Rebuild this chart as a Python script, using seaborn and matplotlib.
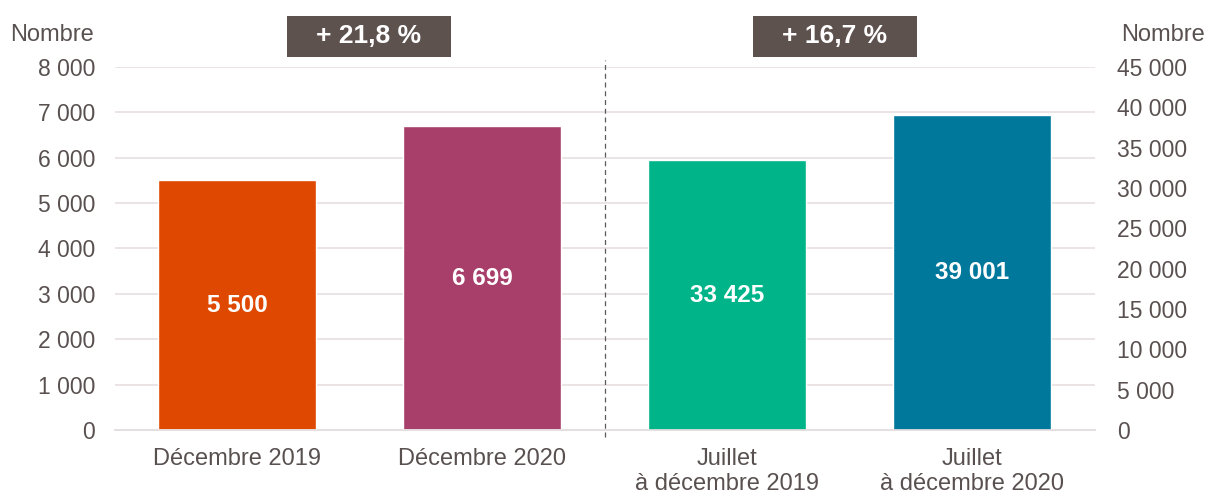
import pandas as pd
import numpy as np
import matplotlib.pyplot as plt
import seaborn as sns
from matplotlib.ticker import FuncFormatter
from matplotlib.patches import Rectangle
from matplotlib.transforms import blended_transform_factory

# données
categories = ["Décembre 2019", "Décembre 2020", "Juillet\nà décembre 2019", "Juillet\nà décembre 2020"]
valeurs = [5500, 6699, 33425, 39001]
etiquettes = ["5 500", "6 699", "33 425", "39 001"]
couleurs = ["#df4800", "#a83e6a", "#00b48a", "#00789c"]
evolutions = ["+ 21,8 %", "+ 16,7 %"]

sns.set_style("white")
plt.rcParams['font.family'] = ['Liberation Sans', 'DejaVu Sans']
gris_txt = "#595150"
gris_grille = "#e6dfdf"

df = pd.DataFrame({'cat': categories, 'val': valeurs})
palette = dict(zip(categories, couleurs))

fig = plt.figure(figsize=(12.07, 4.95), dpi=100)
ax = fig.add_axes([0.095, 0.131, 0.812, 0.734])
ax2 = ax.twinx()

# mois de décembre -> axe de gauche, juillet-décembre -> axe de droite
sns.barplot(data=df.iloc[:2], x='cat', y='val', order=categories, hue='cat',
            palette=palette, width=0.645, ax=ax, legend=False, saturation=1)
sns.barplot(data=df.iloc[2:], x='cat', y='val', order=categories, hue='cat',
            palette=palette, width=0.645, ax=ax2, legend=False, saturation=1)

ax.set_ylim(0, 8000)
ax2.set_ylim(0, 45000)
ax.set_xlim(-0.5, 3.5)
ax.set_yticks(np.arange(0, 8001, 1000))
ax2.set_yticks(np.arange(0, 45001, 5000))
fmt = FuncFormatter(lambda v, p: f"{int(v):,}".replace(",", " "))
ax.yaxis.set_major_formatter(fmt)
ax2.yaxis.set_major_formatter(fmt)

ax.set_axisbelow(True)
ax.yaxis.grid(True, color=gris_grille, linewidth=1.2)
for a in (ax, ax2):
    for s in ['top', 'left', 'right']:
        a.spines[s].set_visible(False)
    a.spines['bottom'].set_color(gris_grille)
    a.spines['bottom'].set_linewidth(1.2)
    a.set_xlabel("")
    a.set_ylabel("")
    a.tick_params(axis='both', length=0, labelsize=16.5, labelcolor=gris_txt)
ax.tick_params(axis='y', pad=14)
ax2.tick_params(axis='y', pad=16)
ax.tick_params(axis='x', pad=13)
ax.set_xticks(range(4))
ax.set_xticklabels(categories, fontsize=17, color=gris_txt, linespacing=1.18)

# étiquettes au milieu des barres
for i in range(4):
    a = ax if i < 2 else ax2
    a.text(i, valeurs[i] / 2, etiquettes[i], ha='center', va='center',
           color='white', fontsize=17.5, fontweight='bold')

# séparateur pointillé
ax.plot([1.5, 1.5], [-0.02, 1.02], transform=ax.get_xaxis_transform(),
        color="#5a5a5a", linestyle=(0, (4, 3)), linewidth=0.9, clip_on=False)

# encadrés d'évolution
trans = blended_transform_factory(ax.transData, ax.transAxes)
for xpos, txt in zip([0.537, 2.44], evolutions):
    ax.add_patch(Rectangle((xpos - 0.335, 1.028), 0.67, 0.113, transform=trans,
                           facecolor="#5e524e", edgecolor='none', clip_on=False))
    ax.text(xpos, 1.084, txt, transform=trans, ha='center', va='center',
            color='white', fontsize=19, fontweight='bold')

fig.text(0.008, 0.929, "Nombre", fontsize=17, color=gris_txt, ha='left', va='center')
fig.text(0.998, 0.929, "Nombre", fontsize=17, color=gris_txt, ha='right', va='center')

fig.savefig("out.png", dpi=100)
